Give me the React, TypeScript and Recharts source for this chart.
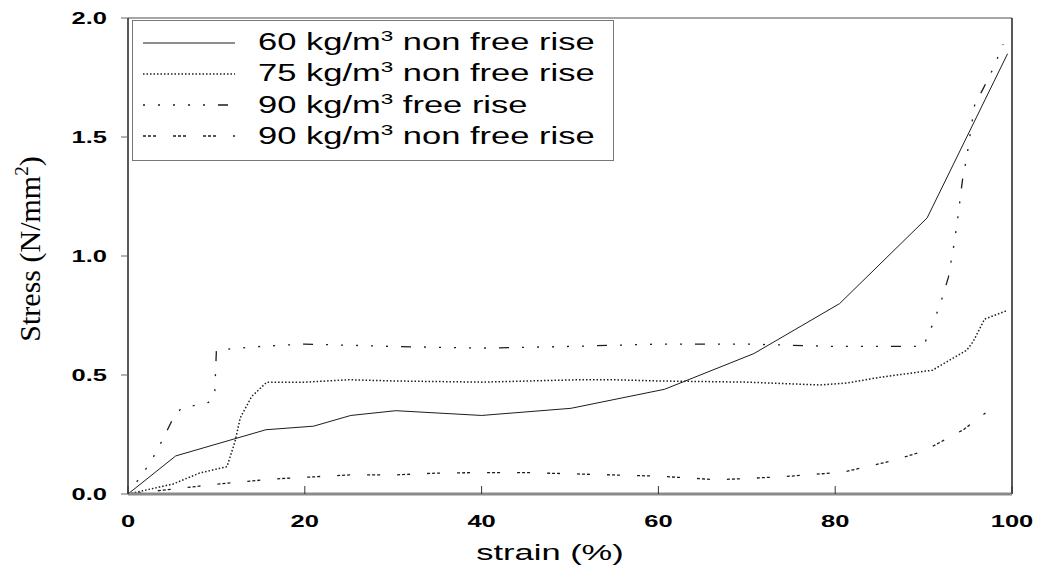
import React from "react";
import { Legend, Line, LineChart, ReferenceLine, XAxis, YAxis } from "recharts";

const SANS = "'Liberation Sans', Arial, sans-serif";
const SERIF = "'Liberation Serif', 'Times New Roman', serif";
const INK = "#1c1c1c";
// the original's sans text is set wide; stretch it horizontally
const STRETCH = 1.5;

// strain (%) / stress (N/mm²)
const STRAIN_60 = [0, 5.4, 15.6, 21, 25.2, 30.3, 40, 50.1, 60.7, 70.8, 80.5, 90.4, 99.5];
const STRESS_60 = [0, 0.16, 0.27, 0.285, 0.33, 0.35, 0.33, 0.36, 0.44, 0.59, 0.8, 1.16, 1.85];

const STRAIN_75 = [0, 5.1, 8.1, 11.2, 12.1, 12.7, 14, 15.7, 20, 25, 30, 40, 51, 55, 60, 70, 78.3, 81.3, 85, 91, 94.9, 95.6, 96.9, 99.4];
const STRESS_75 = [0, 0.042, 0.088, 0.115, 0.22, 0.32, 0.41, 0.47, 0.47, 0.48, 0.475, 0.47, 0.48, 0.48, 0.475, 0.47, 0.458, 0.466, 0.49, 0.52, 0.605, 0.64, 0.735, 0.77];

const STRAIN_90F = [0, 2.5, 3.8, 5, 6, 9.1, 9.8, 10, 15, 20, 30, 40, 50, 60, 70, 80, 90, 90.4, 91, 91.9, 92.8, 93.4, 93.8, 94.4, 94.9, 95.3, 95.8, 96.7, 97.9, 99];
const STRESS_90F = [0, 0.13, 0.22, 0.31, 0.36, 0.385, 0.41, 0.605, 0.62, 0.63, 0.62, 0.613, 0.62, 0.63, 0.63, 0.62, 0.62, 0.66, 0.71, 0.8, 0.91, 1.04, 1.14, 1.32, 1.42, 1.52, 1.64, 1.7, 1.79, 1.89];

const STRAIN_90N = [0, 6.2, 9.6, 12.7, 16.4, 20, 25, 30, 35, 40, 45, 50, 55, 60, 66.6, 70, 75, 80.9, 83, 86.5, 90, 94.5, 97];
const STRESS_90N = [0, 0.025, 0.04, 0.05, 0.063, 0.07, 0.08, 0.08, 0.088, 0.09, 0.09, 0.085, 0.08, 0.075, 0.06, 0.065, 0.075, 0.092, 0.11, 0.14, 0.18, 0.27, 0.34];

const X_TICKS = [0, 20, 40, 60, 80, 100];
const Y_TICKS = [0, 0.5, 1, 1.5, 2];

const zip = (xs: number[], ys: number[]) => xs.map((x, i) => ({ x, y: ys[i] }));

const SERIES = [
  { key: "s60", density: "60", rest: " non free rise", data: zip(STRAIN_60, STRESS_60), dash: undefined, width: 1 },
  { key: "s75", density: "75", rest: " non free rise", data: zip(STRAIN_75, STRESS_75), dash: "1.5 2", width: 1.5 },
  {
    key: "s90f",
    density: "90",
    rest: " free rise",
    data: zip(STRAIN_90F, STRESS_90F),
    dash: "2 13 2 13 2 13 2 13 2 13 10 13",
    width: 1.3,
  },
  { key: "s90n", density: "90", rest: " non free rise", data: zip(STRAIN_90N, STRESS_90N), dash: "3 2 3 2 3 17", width: 1.3 },
];

function XTick({ x, y, payload }: any) {
  return (
    <g>
      <line x1={x} x2={x} y1={y} y2={y - 8} stroke="#333" strokeWidth={1} />
      <text
        transform={`translate(${x}, ${y + 33}) scale(${STRETCH}, 1)`}
        textAnchor="middle"
        fontFamily={SANS}
        fontWeight="bold"
        fontSize={17}
        fill="#000"
      >
        {payload.value}
      </text>
    </g>
  );
}

function YTick({ x, y, payload }: any) {
  return (
    <text
      transform={`translate(${x}, ${y}) scale(${STRETCH}, 1)`}
      dy="0.36em"
      textAnchor="end"
      fontFamily={SANS}
      fontWeight="bold"
      fontSize={17}
      fill="#000"
    >
      {payload.value.toFixed(1)}
    </text>
  );
}

function XLabel({ viewBox }: any) {
  const cx = viewBox.x + viewBox.width / 2 - 20;
  const by = viewBox.y + viewBox.height - 12;
  return (
    <text transform={`translate(${cx}, ${by}) scale(${STRETCH}, 1)`} textAnchor="middle" fontFamily={SANS} fontSize={23} fill="#000">
      strain (%)
    </text>
  );
}

function YLabel({ viewBox }: any) {
  const cy = viewBox.y + viewBox.height / 2 - 7;
  const bx = 40;
  return (
    <text x={bx} y={cy} transform={`rotate(-90, ${bx}, ${cy})`} textAnchor="middle" fontFamily={SERIF} fontSize={30} fill="#000">
      Stress (N/mm
      <tspan dy={-12} fontSize={19}>
        2
      </tspan>
      <tspan dy={12}>)</tspan>
    </text>
  );
}

function LegendBox() {
  return (
    <div
      style={{
        width: 482,
        height: 141,
        boxSizing: "border-box",
        border: "1.5px solid #777",
        background: "#fff",
        position: "relative",
        fontFamily: SANS,
        fontSize: 23,
        color: "#000",
      }}
    >
      {SERIES.map((s, i) => (
        <div
          key={s.key}
          style={{ position: "absolute", left: 10, top: 6 + i * 31.3, height: 31, display: "flex", alignItems: "center" }}
        >
          <svg width={92} height={10} style={{ display: "block" }}>
            <line x1={0} x2={92} y1={5} y2={5} stroke={INK} strokeWidth={s.width} strokeDasharray={s.dash} />
          </svg>
          <span
            style={{
              marginLeft: 23,
              whiteSpace: "nowrap",
              lineHeight: "31px",
              display: "inline-block",
              transform: `scaleX(${STRETCH})`,
              transformOrigin: "left center",
            }}
          >
            {s.density} kg/m<sup style={{ fontSize: 15, lineHeight: 0 }}>3</sup>
            {s.rest}
          </span>
        </div>
      ))}
    </div>
  );
}

export default function App() {
  return (
    <div style={{ position: "absolute", left: 0, top: 0, background: "#fff" }}>
      <LineChart width={1038} height={572} margin={{ top: 18, right: 26, left: 0, bottom: 0 }}>
        <XAxis
          type="number"
          dataKey="x"
          domain={[0, 100]}
          ticks={X_TICKS}
          tick={<XTick />}
          tickLine={false}
          tickSize={0}
          tickMargin={0}
          height={78}
          axisLine={{ stroke: "#8a8a8a", strokeWidth: 3 }}
          allowDataOverflow
          label={<XLabel />}
        />
        <YAxis
          type="number"
          domain={[0, 2]}
          ticks={Y_TICKS}
          width={128}
          tickSize={7}
          tickMargin={14}
          tick={<YTick />}
          tickLine={{ stroke: "#666" }}
          axisLine={{ stroke: "#222", strokeWidth: 1.5 }}
          label={<YLabel />}
        />
        <ReferenceLine y={2} stroke="#888" strokeWidth={1.5} />
        <ReferenceLine x={100} stroke="#222" strokeWidth={1.5} />
        <Legend
          layout="vertical"
          align="center"
          verticalAlign="middle"
          content={<LegendBox />}
          wrapperStyle={{ position: "absolute", left: 132, top: 20, width: 482, height: 141 }}
        />
        {SERIES.map((s) => (
          <Line
            key={s.key}
            data={s.data}
            dataKey="y"
            type="linear"
            stroke={INK}
            strokeWidth={s.width}
            strokeDasharray={s.dash}
            dot={false}
            activeDot={false}
            isAnimationActive={false}
          />
        ))}
      </LineChart>
    </div>
  );
}
